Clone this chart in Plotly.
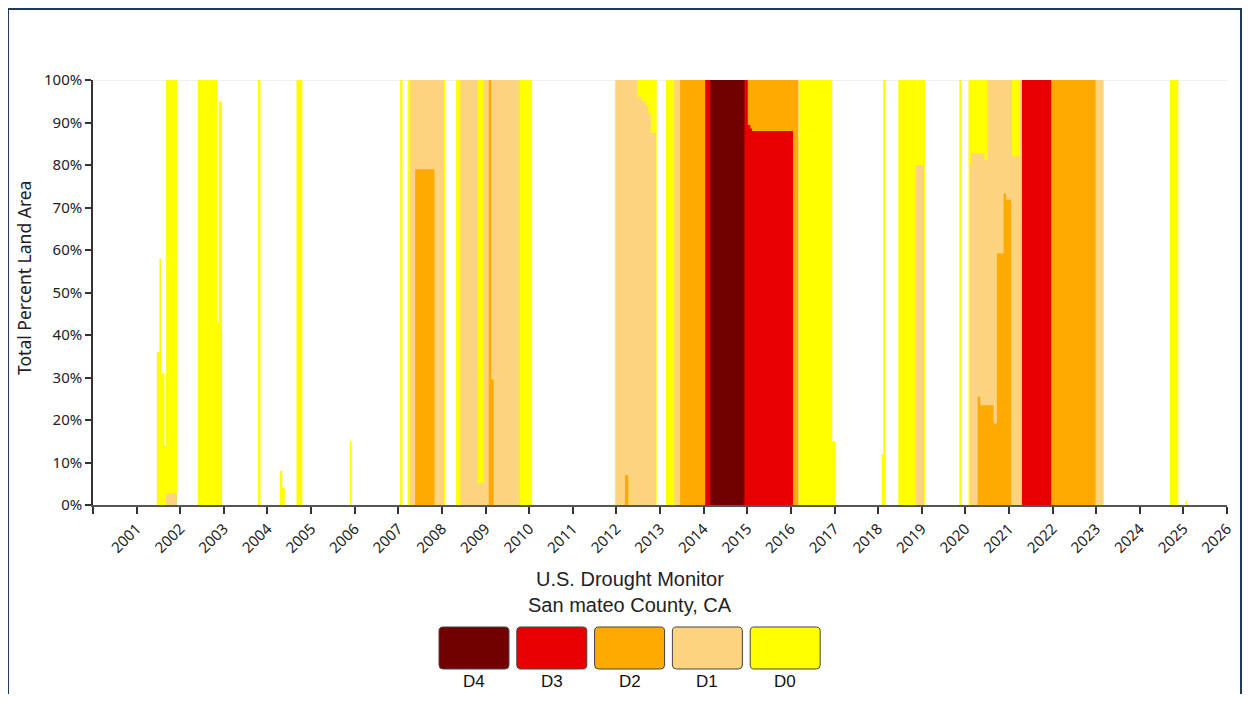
import plotly.graph_objects as go

# ---------------- data (cumulative percent of area, weekly step values) ----------------
categories = ["D4", "D3", "D2", "D1", "D0"]
colors = {"D4": "#730000", "D3": "#E60000", "D2": "#FFAA00", "D1": "#FCD37F", "D0": "#FFFF00"}

d0_dates = ["2000-01-04",
            "2001-06-19", "2001-07-10", "2001-07-24", "2001-08-21", "2001-09-04", "2001-12-04",
            "2002-05-28", "2002-11-05", "2002-11-19", "2002-12-17",
            "2003-10-14", "2003-11-04",
            "2004-04-13", "2004-05-04", "2004-05-25",
            "2004-08-31", "2004-10-19",
            "2005-11-22", "2005-12-06",
            "2007-01-16", "2007-02-06",
            "2007-03-20", "2008-01-29",
            "2008-04-29", "2010-01-26",
            "2011-12-20", "2012-12-04",
            "2013-02-19", "2016-12-13", "2017-01-10",
            "2018-01-30", "2018-02-13", "2018-03-06",
            "2018-06-19", "2019-01-29",
            "2019-11-12", "2019-12-03",
            "2020-01-28", "2023-03-07",
            "2024-09-10", "2024-11-19",
            "2025-01-21", "2025-02-04", "2026-01-01"]
d0_values = [0,
             36, 58, 31, 14, 100, 0,
             100, 43, 95, 0,
             100, 0,
             8, 4, 0,
             100, 0,
             15, 0,
             100, 0,
             100, 0,
             100, 0,
             100, 0,
             100, 15, 0,
             12, 100, 0,
             100, 0,
             100, 0,
             100, 0,
             100, 0,
             1, 0, 0]

d1_dates = ["2000-01-04",
            "2001-09-04", "2001-12-04",
            "2007-04-10", "2008-01-15",
            "2008-06-03", "2008-10-28", "2008-12-16", "2009-10-13",
            "2011-12-27", "2012-06-26", "2012-07-31", "2012-09-04", "2012-09-25", "2012-10-16", "2012-11-27",
            "2013-04-30", "2016-03-08",
            "2018-11-13", "2019-01-22",
            "2020-02-11", "2020-02-18", "2020-06-09", "2020-07-07", "2021-01-26", "2021-03-30", "2023-02-28",
            "2026-01-01"]
d1_values = [0,
             2.7, 0,
             100, 0,
             100, 5.1, 100, 0,
             100, 96, 95, 94, 92, 87.6, 0,
             100, 0,
             80, 0,
             80.5, 82.7, 81.2, 100, 82, 100, 0,
             0]

d2_dates = ["2000-01-04",
            "2007-05-22", "2007-10-30",
            "2009-01-27", "2009-02-17", "2009-03-10",
            "2012-03-13", "2012-04-10",
            "2013-06-18", "2016-03-01",
            "2020-04-14", "2020-05-05", "2020-08-25", "2020-09-22", "2020-11-17", "2020-12-08", "2021-01-19",
            "2021-04-20", "2022-12-27",
            "2026-01-01"]
d2_values = [0,
             79, 0,
             100, 29.6, 0,
             7, 0,
             100, 0,
             25.5, 23.5, 19.2, 59.2, 73.3, 71.8, 0,
             100, 0,
             0]

d3_dates = ["2000-01-04",
            "2014-01-14", "2015-01-06", "2015-01-27", "2015-02-10", "2016-01-19",
            "2021-04-20", "2021-12-21",
            "2026-01-01"]
d3_values = [0,
             100, 89.4, 88.6, 88, 0,
             100, 0,
             0]

d4_dates = ["2000-01-04", "2014-02-25", "2014-12-09", "2026-01-01"]
d4_values = [0, 100, 0, 0]

series = {"D0": (d0_dates, d0_values), "D1": (d1_dates, d1_values),
          "D2": (d2_dates, d2_values), "D3": (d3_dates, d3_values),
          "D4": (d4_dates, d4_values)}

years = list(range(2000, 2027))
tick_vals = [f"{y}-01-01" for y in years]
tick_text = ["" if y == 2000 else str(y) for y in years]
y_ticks = list(range(0, 101, 10))
y_tick_text = [f"{v}%" for v in y_ticks]

title_lines = ["U.S. Drought Monitor", "San mateo County, CA"]

# ---------------- figure geometry ----------------
W, H = 1238, 686
ML, MR, MT, MB = 85, 19, 72, 189
PW, PH = W - ML - MR, H - MT - MB
OFF = 8  # page body margin


def pxp(xpage):
    return (xpage - OFF - ML) / PW


def pyp(ypage):
    return (H - MB - (ypage - OFF)) / PH


fig = go.Figure()
for cat in ["D0", "D1", "D2", "D3", "D4"]:
    dts, vals = series[cat]
    fig.add_trace(go.Scatter(
        x=dts, y=vals, mode="lines", line=dict(width=0, shape="hv", color=colors[cat]),
        fill="tozeroy", fillcolor=colors[cat], name=cat, showlegend=False,
        hoverinfo="x+y"))

shapes = []
# outer border
shapes.append(dict(type="rect", xref="paper", yref="paper",
                   x0=pxp(8), x1=pxp(1241), y0=pyp(9), y1=pyp(780),
                   line=dict(color="#1F3A5F", width=2), fillcolor="rgba(0,0,0,0)", layer="above"))
# top grid line at 100%
shapes.append(dict(type="line", xref="paper", yref="y", x0=0, x1=1, y0=100, y1=100,
                   line=dict(color="#DDDDDD", width=1), layer="below"))


def rrect_path(x0, y0, x1, y1, r):
    def P(x, y):
        return f"{pxp(x):.6f},{pyp(y):.6f}"
    return ("M " + P(x0 + r, y0) + " L " + P(x1 - r, y0) + " Q " + P(x1, y0) + " " + P(x1, y0 + r) +
            " L " + P(x1, y1 - r) + " Q " + P(x1, y1) + " " + P(x1 - r, y1) +
            " L " + P(x0 + r, y1) + " Q " + P(x0, y1) + " " + P(x0, y1 - r) +
            " L " + P(x0, y0 + r) + " Q " + P(x0, y0) + " " + P(x0 + r, y0) + " Z")


annotations = []
box_w, box_h = 70, 42
box_top = 627
cx0, step = 474, 77.8
for i, cat in enumerate(categories):
    cx = cx0 + i * step
    shapes.append(dict(type="path", xref="paper", yref="paper",
                       path=rrect_path(cx - box_w / 2, box_top, cx + box_w / 2, box_top + box_h, 4),
                       fillcolor=colors[cat], line=dict(color="#444444", width=1)))
    annotations.append(dict(xref="paper", yref="paper", x=pxp(cx), y=pyp(681), text=cat,
                            showarrow=False, xanchor="center", yanchor="middle",
                            font=dict(family="Liberation Sans, Arial", size=17, color="#111111")))

for j, line in enumerate(title_lines):
    annotations.append(dict(xref="paper", yref="paper", x=pxp(630), y=pyp(579 + 26 * j), text=line,
                            showarrow=False, xanchor="center", yanchor="middle",
                            font=dict(family="Liberation Sans, Arial", size=20, color="#222222")))

annotations.append(dict(xref="paper", yref="paper", x=pxp(24), y=pyp(278), text="Total Percent Land Area",
                        textangle=-90, showarrow=False, xanchor="center", yanchor="middle",
                        font=dict(family="Noto Sans", size=17.5, color="#222222")))

fig.update_layout(
    width=W, height=H,
    margin=dict(l=ML, r=MR, t=MT, b=MB),
    paper_bgcolor="white", plot_bgcolor="white",
    shapes=shapes, annotations=annotations,
    xaxis=dict(type="date", range=["2000-01-01", "2026-01-01"], tickmode="array",
               tickvals=tick_vals, ticktext=tick_text,
               tickangle=-45, ticks="outside", ticklen=7, tickwidth=1.5, tickcolor="#333333",
               showline=True, linecolor="#555555", linewidth=2, showgrid=False, zeroline=False,
               tickfont=dict(family="Noto Sans", size=15, color="#222222")),
    yaxis=dict(range=[0, 100], tickmode="array", tickvals=y_ticks, ticktext=y_tick_text,
               ticks="outside", ticklen=6,
               tickwidth=1.5, tickcolor="#333333", showline=True, linecolor="#333333", linewidth=1.5,
               showgrid=False, zeroline=False,
               tickfont=dict(family="Noto Sans", size=15, color="#222222")),
)

fig.write_html("out.html")
